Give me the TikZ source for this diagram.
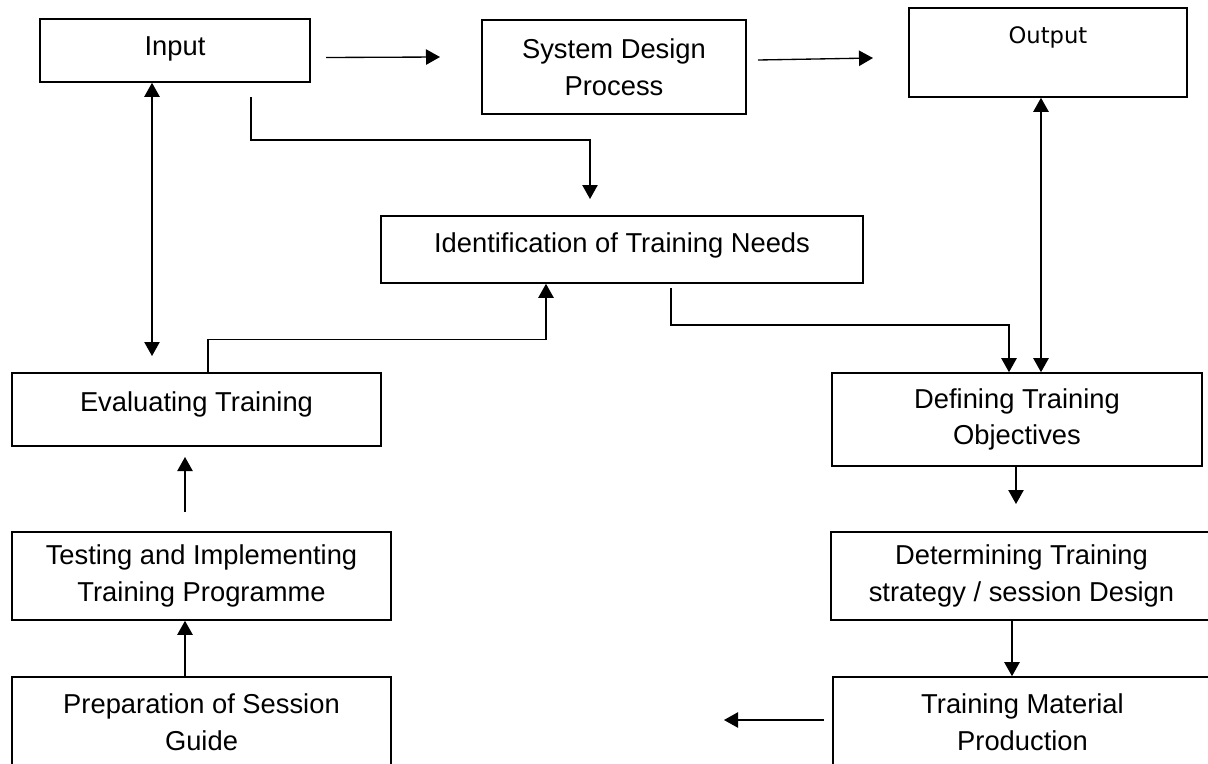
\documentclass[tikz,border=0pt]{standalone}
\usepackage{fontspec}
\setmainfont{Liberation Sans}
\newfontfamily\dejavu{DejaVu Sans}
\usetikzlibrary{arrows.meta}

\tikzset{
  box/.style={draw, line width=1.2pt, inner sep=0pt, align=center,
              font=\fontsize{20.5}{27.6}\selectfont},
  lift/.style={text depth=#1},
  arr/.style={line width=1pt, -{Triangle[length=10.5pt,width=11.5pt]}},
  dbl/.style={line width=1pt, {Triangle[length=10.5pt,width=11.5pt]}-{Triangle[length=10.5pt,width=11.5pt]}},
}

\begin{document}
\begin{tikzpicture}[x=0.75pt, y=-0.75pt]
\useasboundingbox (0,0) rectangle (1208,764);
\clip (0,0) rectangle (1208,764);

% top row
\node[box, minimum width=202.5pt, minimum height=47.25pt, lift=6pt] (inp) at (175,50.5) {Input};
\node[box, minimum width=198pt, minimum height=70.5pt] (sdp) at (614,67) {System Design\\Process};
\node[box, minimum width=208.5pt, minimum height=66.75pt] (out) at (1048,52.5) {};
\node[font=\dejavu\fontsize{17}{20}\selectfont] (outtext) at (1048,37) {Output};

% middle
\node[box, minimum width=361.5pt, minimum height=50.25pt, lift=11pt] (itn) at (622,249.5) {Identification of Training Needs};
\node[box, minimum width=276.75pt, minimum height=54.75pt, lift=12.5pt] (evl) at (196.5,409.5) {Evaluating Training};
\node[box, minimum width=277.5pt, minimum height=69.75pt] (dto) at (1017,419.5) {Defining Training\\Objectives};

% lower rows
\node[box, minimum width=284.25pt, minimum height=66pt] (tst) at (201.5,576) {Testing and Implementing\\Training Programme};
\node[box, minimum width=285.75pt, minimum height=66pt] (dts) at (1021.5,576) {Determining Training\\strategy / session Design};
\node[box, minimum width=284.25pt, minimum height=68.25pt] (prp) at (201.5,722.5) {Preparation of Session\\Guide};
\node[box, minimum width=284.25pt, minimum height=68.25pt] (mat) at (1022.5,722.5) {Training Material\\Production};

% free connector ends
\coordinate (a1) at (326,57.5);
\coordinate (a2) at (440,57);
\coordinate (b1) at (758,60);
\coordinate (b2) at (873,58);
\coordinate (c1) at (251,97);
\coordinate (c2) at (590,199);
\coordinate (d2) at (152,356);
\coordinate (f1) at (671,288);
\coordinate (g2) at (1016,504);
\coordinate (h1) at (824,720);
\coordinate (h2) at (724,720);
\coordinate (k1) at (185,512);
\coordinate (k2) at (185,457);

% connectors
\draw[arr] (a1) -- (a2);
\draw[arr] (b1) -- (b2);
\draw[arr] (c1) -- ++(0,43) -| (c2);
\draw[dbl] (152,0 |- inp.south) -- (d2);
\draw[arr] (208,0 |- evl.north) -- ++(0,-33) -| (546,0 |- itn.south);
\draw[arr] (f1) -- ++(0,37) -| (1009,0 |- dto.north);
\draw[dbl] (1041,0 |- out.south) -- (1041,0 |- dto.north);
\draw[arr] (1016,0 |- dto.south) -- (g2);
\draw[arr] (1012,0 |- dts.south) -- (1012,0 |- mat.north);
\draw[arr] (h1) -- (h2);
\draw[arr] (k1) -- (k2);
\draw[arr] (185,0 |- prp.north) -- (185,0 |- tst.south);
\end{tikzpicture}
\end{document}
